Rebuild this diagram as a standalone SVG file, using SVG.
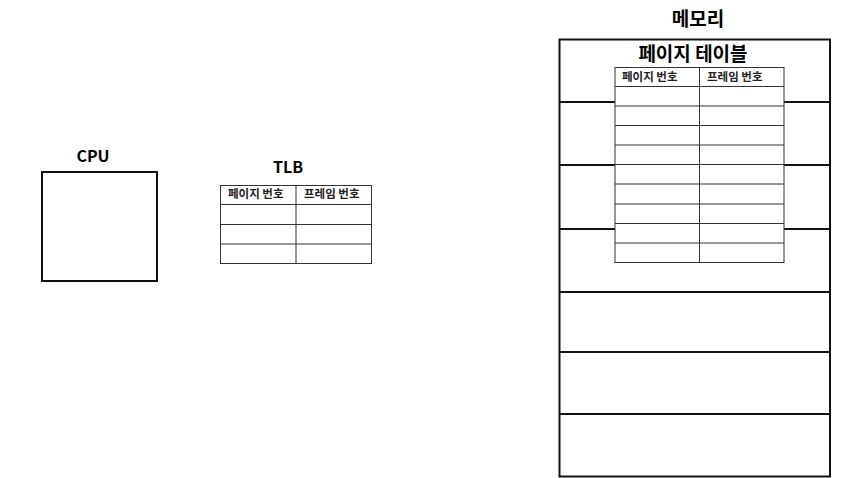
<svg xmlns="http://www.w3.org/2000/svg" width="859" height="478" viewBox="0 0 859 478">
<style>
text{font-family:"Noto Sans CJK KR","Noto Sans",sans-serif;fill:#000}
.title{font-size:16px;font-weight:bold;text-anchor:middle}
.big{font-size:19px;font-weight:bold;text-anchor:middle}
.hdr{font-size:11.5px;font-weight:bold;fill:#222}
.thick{fill:none;stroke:#111;stroke-width:2}
.thin{fill:none;stroke:#333;stroke-width:1}
</style>
<rect width="859" height="478" fill="#fff"/>
<g id="cpu">
<text class="title" x="93" y="162">CPU</text>
<rect class="thick" x="42" y="172" width="115" height="109"/>
</g>
<g id="tlb">
<text class="title" x="288" y="173">TLB</text>
<rect class="thin" x="220.5" y="185.5" width="151" height="78"/>
<line class="thin" x1="296" y1="185.5" x2="296" y2="263.5"/>
<line class="thin" x1="220.5" y1="204.5" x2="371.5" y2="204.5"/>
<line class="thin" x1="220.5" y1="224.5" x2="371.5" y2="224.5"/>
<line class="thin" x1="220.5" y1="244" x2="371.5" y2="244"/>
<text class="hdr" x="228" y="198">페이지 번호</text>
<text class="hdr" x="304" y="198">프레임 번호</text>
</g>
<g id="memory">
<text class="big" x="698" y="26">메모리</text>
<rect class="thick" x="559.5" y="39.5" width="270.5" height="437"/>
<path class="thick" d="M559.5 102H615M784 102H830M559.5 165H615M784 165H830M559.5 229H615M784 229H830M559.5 292H830M559.5 352H830M559.5 414H830"/>
</g>
<g id="page-table">
<text class="big" x="693" y="61">페이지 테이블</text>
<rect class="thin" x="615" y="67.5" width="169" height="195"/>
<line class="thin" x1="699.5" y1="67.5" x2="699.5" y2="262.5"/>
<path class="thin" d="M615 86.5H784M615 106H784M615 125.5H784M615 145H784M615 164.5H784M615 184H784M615 204H784M615 223.5H784M615 243H784"/>
<text class="hdr" x="622" y="81">페이지 번호</text>
<text class="hdr" x="707" y="81">프레임 번호</text>
</g>
</svg>
